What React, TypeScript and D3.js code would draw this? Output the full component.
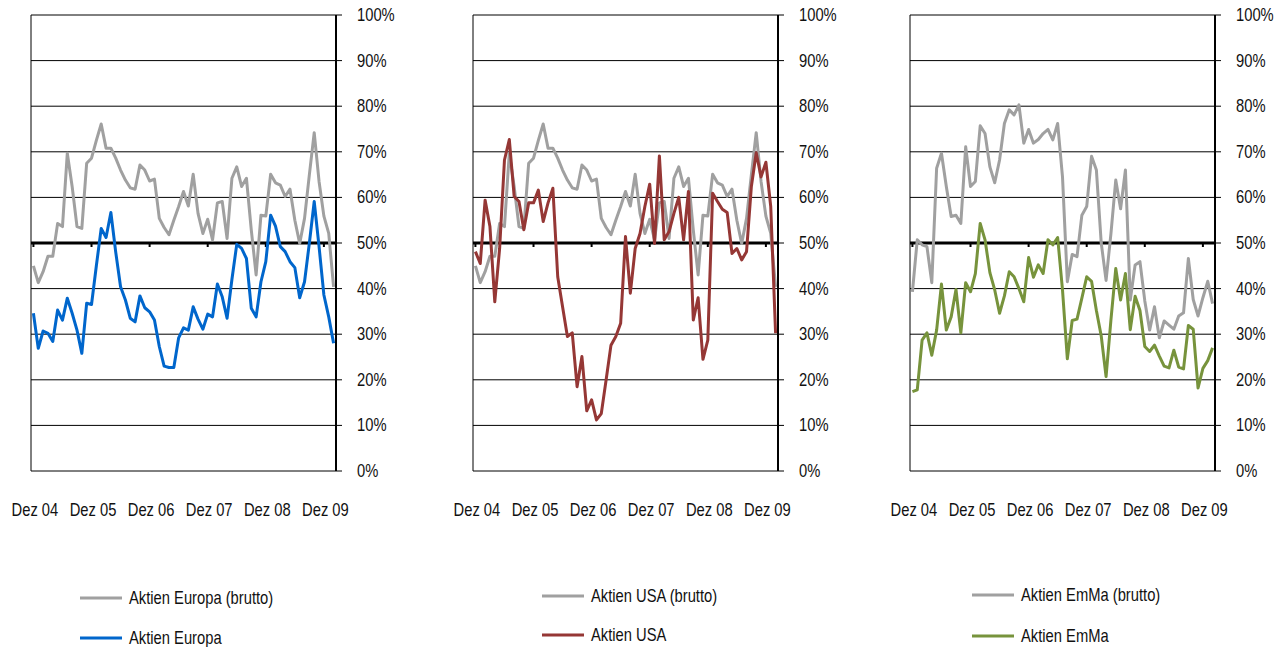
import React, { useEffect, useRef } from 'react';
import * as d3 from 'd3';

// x axis labels, one per December (every 12th month)
const tickLabels = ['Dez 04', 'Dez 05', 'Dez 06', 'Dez 07', 'Dez 08', 'Dez 09'];
const yTicks = [0, 10, 20, 30, 40, 50, 60, 70, 80, 90, 100];

// monthly shares in %, Dez 04 .. Feb 10
const europaBrutto = [
  45, 41.3, 43.7, 47.1, 47.1, 54.3, 53.6, 69.7, 62.4, 53.6, 53.2, 67.5, 68.6, 72.5, 76.1, 70.8,
  70.8, 68.6, 66, 63.8, 62.1, 61.8, 67.1, 66, 63.6, 64, 55.4, 53.4, 51.8, 55, 58, 61.3,
  58.1, 65.1, 56.5, 52.1, 55.2, 50.7, 58.8, 59.1, 51, 64.2, 66.7, 62.4, 64.2, 52.9, 43, 56.1,
  55.9, 65.1, 63.2, 62.7, 60.2, 61.8, 55, 49.9, 55.4, 65, 74.2, 63.5, 55.9, 52.1, 40.4,
];
const europa = [
  34.6, 26.9, 30.7, 30.2, 28.4, 35.3, 33.1, 37.9, 34.6, 30.9, 25.8, 36.8, 36.5, 45, 53.2, 51.2,
  56.7, 48, 40.4, 37.5, 33.5, 32.7, 38.4, 35.8, 34.9, 33.1, 27.3, 23, 22.7, 22.7, 29.2, 31.4,
  30.9, 36, 33.3, 31.1, 34.4, 33.8, 41, 38.2, 33.5, 42, 49.7, 48.8, 46.6, 35.7, 33.8, 41.5,
  45.9, 56.1, 53.7, 49.2, 48.1, 45.9, 44.6, 38, 41.5, 50, 59.1, 49.2, 38.6, 33.8, 28,
];
const usaBrutto = [
  45, 41.3, 43.7, 47.1, 47.1, 54.3, 53.6, 69.7, 62.4, 53.6, 53.2, 67.5, 68.6, 72.5, 76.1, 70.8,
  70.8, 68.6, 66, 63.8, 62.1, 61.8, 67.1, 66, 63.6, 64, 55.4, 53.4, 51.8, 55, 58, 61.3,
  58.1, 65.1, 56.5, 52.1, 55.2, 50.7, 58.8, 59.1, 51, 64.2, 66.7, 62.4, 64.2, 52.9, 43, 56.1,
  55.9, 65.1, 63.2, 62.7, 60.2, 61.8, 55, 49.9, 55.4, 65, 74.2, 63.5, 55.9, 52.1, 40.4,
];
const usa = [
  48.1, 45.5, 59.4, 53.6, 37.1, 48.8, 68.2, 72.7, 60.2, 59.1, 52.9, 58.8, 58.8, 61.6, 54.7, 58.8,
  62, 42.6, 36, 29.5, 30.3, 18.5, 25.1, 13.2, 15.6, 11.2, 12.6, 20, 27.6, 29.5, 32.4, 51.4,
  39, 48.8, 52.1, 58, 62.9, 49.9, 69.1, 50.7, 52.5, 56.5, 60, 50.7, 61.3, 33.1, 38, 24.5,
  28.7, 60.9, 59.1, 57.4, 56.7, 47.7, 48.8, 46.3, 48.1, 62.4, 69.8, 64.5, 67.7, 58, 30.2,
];
const emmaBrutto = [
  39.3, 50.7, 49.6, 49.2, 41.3, 66.4, 69.7, 62.4, 55.8, 56.1, 54.3, 71.1, 62.4, 63.5, 75.7, 74,
  66.7, 63.2, 68.2, 76.2, 79.2, 78.1, 80.3, 71.9, 74.9, 71.9, 72.7, 74, 74.9, 72.6, 76.2, 64.5,
  41.5, 47.5, 47, 56.1, 58, 69, 66, 50, 41.8, 52, 63.8, 57.5, 66, 37.5, 45.2, 45.9,
  37.3, 30.9, 36, 29.2, 32.9, 32, 31.1, 34, 34.7, 46.6, 37.6, 34, 38, 41.6, 36.7,
];
const emma = [
  17.4, 17.8, 28.7, 30.3, 25.4, 30.9, 41, 30.9, 33.8, 39.8, 30.3, 41.3, 39.3, 43.3, 54.3, 50.7,
  43.5, 39.7, 34.6, 38.4, 43.7, 42.6, 40, 37.1, 46.8, 42.5, 45.2, 43.3, 50.7, 49.6, 51.2, 39.7,
  24.6, 33, 33.3, 37.9, 42.6, 41.6, 35.2, 29.6, 20.7, 33.1, 44.4, 37.5, 43.3, 31, 38.3, 35.2,
  27.3, 26.2, 27.6, 25.2, 23, 22.6, 26.5, 22.8, 22.4, 31.9, 31.1, 18.2, 22.5, 24.2, 27,
];

const grey = '#a0a0a0';
const font = "'Liberation Sans', Arial, sans-serif";
const squeeze = 0.82; // narrow look of the original font

const panels = [
  { left: 31, legX: 80, legY: [598, 638], names: ['Aktien Europa (brutto)', 'Aktien Europa'], data: [europaBrutto, europa], colors: [grey, '#0066cc'] },
  { left: 473, legX: 542, legY: [596, 635], names: ['Aktien USA (brutto)', 'Aktien USA'], data: [usaBrutto, usa], colors: [grey, '#953735'] },
  { left: 910, legX: 972, legY: [595, 636], names: ['Aktien EmMa (brutto)', 'Aktien EmMa'], data: [emmaBrutto, emma], colors: [grey, '#77933c'] },
];

const W = 1286, H = 647;
const plotW = 305, top = 15, bottom = 471;

function Charts() {
  const ref = useRef<SVGSVGElement>(null);

  useEffect(() => {
    const svg = d3.select(ref.current);
    svg.selectAll('*').remove();

    const y = d3.scaleLinear().domain([0, 100]).range([bottom, top]);

    const label = (g: any, tx: number, ty: number, txt: string, anchor = 'start') =>
      g.append('text')
        .attr('transform', `translate(${tx},${ty}) scale(${squeeze},1)`)
        .attr('text-anchor', anchor)
        .attr('font-family', font)
        .attr('font-size', 18)
        .attr('fill', '#111')
        .text(txt);

    panels.forEach((p) => {
      const g = svg.append('g');
      const n = p.data[0].length;
      const x = d3.scalePoint<number>()
        .domain(d3.range(n))
        .range([p.left, p.left + plotW])
        .padding(0.5);
      const right = p.left + plotW;

      // gridlines + right ticks
      g.selectAll('line.grid')
        .data(yTicks)
        .enter()
        .append('line')
        .attr('x1', p.left)
        .attr('x2', right + 6)
        .attr('y1', d => y(d))
        .attr('y2', d => y(d))
        .attr('stroke', '#000')
        .attr('stroke-width', 1);

      g.append('line')
        .attr('x1', p.left).attr('x2', p.left)
        .attr('y1', top).attr('y2', bottom)
        .attr('stroke', '#000').attr('stroke-width', 1);

      g.append('line')
        .attr('x1', right).attr('x2', right)
        .attr('y1', top).attr('y2', bottom)
        .attr('stroke', '#000').attr('stroke-width', 2);

      // x axis crossing at 50%
      g.append('line')
        .attr('x1', p.left).attr('x2', right)
        .attr('y1', y(50)).attr('y2', y(50))
        .attr('stroke', '#000').attr('stroke-width', 3);

      g.selectAll('rect.tick')
        .data(tickLabels)
        .enter()
        .append('rect')
        .attr('x', (d, i) => (x(i * 12) as number) - 1)
        .attr('y', y(50) + 1)
        .attr('width', 2)
        .attr('height', 3)
        .attr('fill', '#000');

      yTicks.forEach(t => label(g, right + 21, y(t) + 6, t + '%'));
      tickLabels.forEach((t, i) => label(g, (x(i * 12) as number) + 1.5, 516, t, 'middle'));

      const line = d3.line<number>()
        .x((d, i) => x(i) as number)
        .y(d => y(d));

      p.data.forEach((s, k) => {
        g.append('path')
          .datum(s)
          .attr('d', line)
          .attr('fill', 'none')
          .attr('stroke', p.colors[k])
          .attr('stroke-width', 3)
          .attr('stroke-linejoin', 'round');
      });

      // legend
      p.names.forEach((name, k) => {
        g.append('line')
          .attr('x1', p.legX).attr('x2', p.legX + 42)
          .attr('y1', p.legY[k]).attr('y2', p.legY[k])
          .attr('stroke', p.colors[k])
          .attr('stroke-width', 3);
        label(g, p.legX + 49, p.legY[k] + 6, name);
      });
    });
  }, []);

  return <svg ref={ref} width={W} height={H} style={{ position: 'absolute', left: 0, top: 0, background: '#fff' }} />;
}

export default function App() {
  return <Charts />;
}
